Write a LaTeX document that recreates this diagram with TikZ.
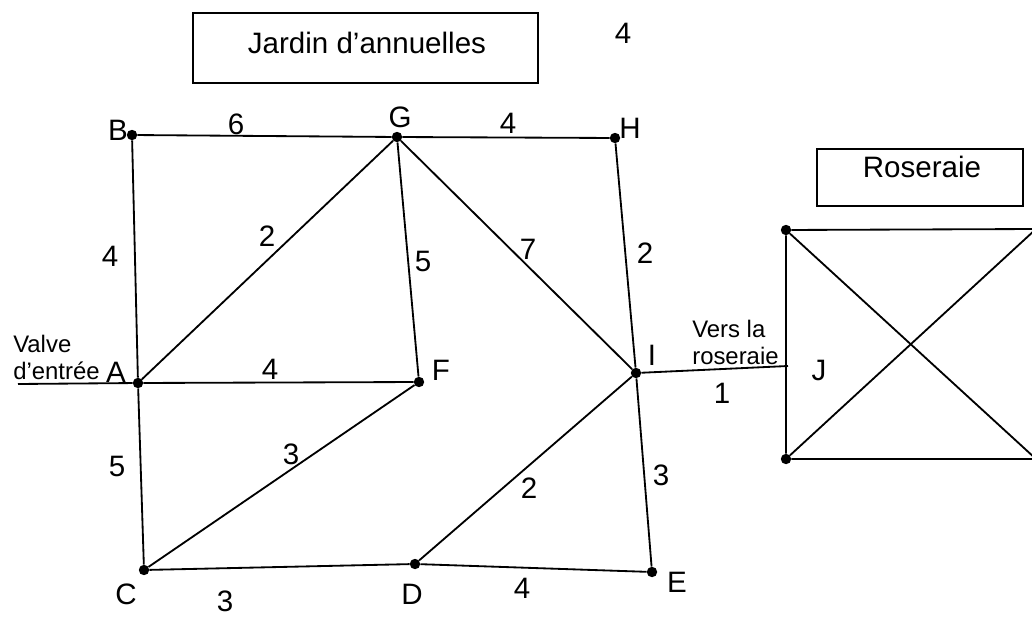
\documentclass[tikz,border=0pt]{standalone}
\usepackage{fontspec}
\setmainfont{Liberation Sans}
\tikzset{
  vertex/.style={circle,fill,inner sep=0pt,minimum size=2.6mm},
  tag/.style={inner sep=0pt,font=\fontsize{21}{25}\selectfont},
  note/.style={inner sep=0pt,anchor=west,align=left,font=\fontsize{17}{19.2}\selectfont},
  edge/.style={line width=1.3pt},
  panel/.style={line width=0.9pt}
}
\begin{document}
\begin{tikzpicture}[x=0.025cm,y=-0.025cm]
    \clip (0,0) rectangle (1032,617);
    % sommets du reseau
    \node[vertex] (A) at (138,383) {};
    \node[vertex] (B) at (132,135) {};
    \node[vertex] (G) at (397,137) {};
    \node[vertex] (H) at (615,138) {};
    \node[vertex] (F) at (419,382) {};
    \node[vertex] (I) at (636,373) {};
    \node[vertex] (C) at (144,570) {};
    \node[vertex] (D) at (415,564) {};
    \node[vertex] (E) at (652,572) {};
    \node[vertex] (J1) at (786,230) {};
    \node[vertex] (J2) at (786,459) {};
    \coordinate (J3) at (1036,229);
    \coordinate (J4) at (1036,459);
    \coordinate (Jin) at (788,366);
    \coordinate (valve) at (18,384);
    % conduites
    \draw[edge] (valve) -- (A);
    \draw[edge] (A) -- (B);
    \draw[edge] (B) -- (G);
    \draw[edge] (G) -- (H);
    \draw[edge] (A) -- (G);
    \draw[edge] (G) -- (F);
    \draw[edge] (G) -- (I);
    \draw[edge] (H) -- (I);
    \draw[edge] (A) -- (F);
    \draw[edge] (A) -- (C);
    \draw[edge] (C) -- (F);
    \draw[edge] (C) -- (D);
    \draw[edge] (D) -- (E);
    \draw[edge] (D) -- (I);
    \draw[edge] (I) -- (E);
    \draw[edge] (I) -- (Jin);
    % roseraie
    \draw[edge] (J1) -- (J3) -- (J4) -- (J2) -- (J1);
    \draw[edge] (J1) -- (J4);
    \draw[edge] (J2) -- (J3);
    % cadres
    \draw[panel] (193,13) rectangle (538,83);
    \draw[panel] (817,149) rectangle (1023,206);
    \node[tag] (jardin) at (367,43) {Jardin d’annuelles};
    \node[tag] (roseraie) at (922,167) {Roseraie};
    \node[tag] (wtop) at (623,33) {4};
    % lettres
    \node[tag] (lA) at (116,372) {A};
    \node[tag] (lB) at (118,130) {B};
    \node[tag] (lC) at (126,594) {C};
    \node[tag] (lD) at (412,594) {D};
    \node[tag] (lE) at (677,582) {E};
    \node[tag] (lF) at (441,370) {F};
    \node[tag] (lG) at (400,117) {G};
    \node[tag] (lH) at (630,128) {H};
    \node[tag] (lI) at (652,355) {I};
    \node[tag] (lJ) at (819,370) {J};
    \node[note] (lvalve) at (13,357) {Valve\\d’entrée};
    \node[note] (lvers) at (692,342) {Vers la\\roseraie};
    % longueurs
    \node[tag] (wBG) at (236,124) {6};
    \node[tag] (wGH) at (508,123) {4};
    \node[tag] (wAB) at (110,256) {4};
    \node[tag] (wAG) at (267,236) {2};
    \node[tag] (wGF) at (423,261) {5};
    \node[tag] (wGI) at (528,249) {7};
    \node[tag] (wHI) at (645,253) {2};
    \node[tag] (wAF) at (270,369) {4};
    \node[tag] (wIJ) at (722,393) {1};
    \node[tag] (wAC) at (117,466) {5};
    \node[tag] (wCF) at (291,454) {3};
    \node[tag] (wDI) at (529,488) {2};
    \node[tag] (wIE) at (661,475) {3};
    \node[tag] (wCD) at (225,601) {3};
    \node[tag] (wDE) at (522,588) {4};
\end{tikzpicture}
\end{document}
